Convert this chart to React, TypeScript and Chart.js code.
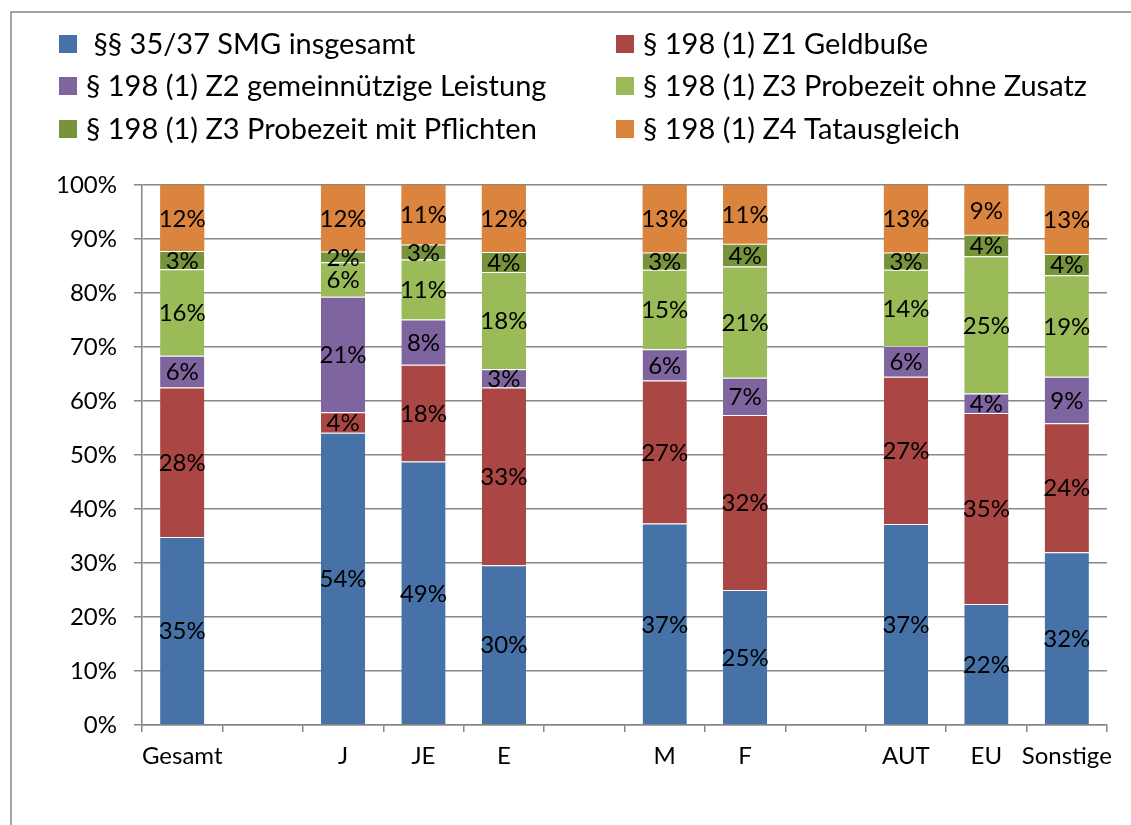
import React, { useEffect, useRef } from "react";
import { Chart, registerables } from "chart.js";

Chart.register(...registerables);

const categories = ["Gesamt", "", "J", "JE", "E", "", "M", "F", "", "AUT", "EU", "Sonstige"];

const seriesNames = [
  " §§ 35/37 SMG insgesamt",
  "§ 198 (1) Z1 Geldbuße",
  "§ 198 (1) Z2 gemeinnützige Leistung",
  "§ 198 (1) Z3 Probezeit ohne Zusatz",
  "§ 198 (1) Z3 Probezeit mit Pflichten",
  "§ 198 (1) Z4 Tatausgleich",
];

const smgInsgesamt = [34.8, null, 54.1, 48.8, 29.6, null, 37.3, 25.0, null, 37.2, 22.4, 32.0];
const geldbusse = [27.7, null, 3.8, 17.9, 32.9, null, 26.5, 32.4, null, 27.3, 35.4, 23.9];
const gemeinnuetzig = [5.9, null, 21.4, 8.4, 3.4, null, 5.8, 6.9, null, 5.7, 3.6, 8.6];
const probezeitOhne = [16.0, null, 6.4, 11.1, 18.0, null, 14.7, 20.6, null, 14.1, 25.4, 18.8];
const probezeitMit = [3.4, null, 2.0, 2.8, 3.7, null, 3.2, 4.2, null, 3.2, 4.0, 3.9];
const tatausgleich = [12.2, null, 12.3, 11.0, 12.4, null, 12.5, 10.9, null, 12.5, 9.2, 12.8];

const yTicks = [0, 10, 20, 30, 40, 50, 60, 70, 80, 90, 100];

const colors = ["#4672A8", "#AA4643", "#7F65A0", "#9BBB59", "#77933C", "#DB843D"];

const FONT = "Lato, 'Open Sans', sans-serif";
const GRID = "#878787";

const labelPlugin = {
  id: "segLabels",
  afterDatasetsDraw(chart: any) {
    const ctx = chart.ctx;
    ctx.save();
    ctx.font = `24px ${FONT}`;
    ctx.fillStyle = "#000";
    ctx.textAlign = "center";
    ctx.textBaseline = "middle";
    chart.data.datasets.forEach((ds: any, i: number) => {
      const meta = chart.getDatasetMeta(i);
      meta.data.forEach((el: any, j: number) => {
        const v = ds.data[j];
        if (v === null || v === undefined) return;
        const y = (el.y + el.base) / 2;
        ctx.fillText(Math.round(v) + "%", el.x, y + 1);
      });
    });
    ctx.restore();
  },
};

const framePlugin = {
  id: "frameLegend",
  beforeDraw(chart: any) {
    const ctx = chart.ctx;
    ctx.save();
    ctx.fillStyle = "#fff";
    ctx.fillRect(0, 0, chart.width, chart.height);
    ctx.strokeStyle = GRID;
    ctx.lineWidth = 1.5;
    ctx.strokeRect(11, 12, chart.width + 20, chart.height + 20);
    ctx.restore();
  },
  afterDraw(chart: any) {
    const ctx = chart.ctx;
    ctx.save();
    ctx.font = `29px ${FONT}`;
    ctx.textBaseline = "middle";
    ctx.textAlign = "left";
    const colX = [59, 616];
    const rowY = [44, 86, 129];
    chart.data.datasets.forEach((ds: any, i: number) => {
      const col = i % 2;
      const row = Math.floor(i / 2);
      const x = colX[col];
      const y = rowY[row];
      ctx.fillStyle = ds.backgroundColor;
      ctx.fillRect(x, y - 9, 18, 18);
      ctx.fillStyle = "#000";
      ctx.fillText(ds.label, x + 27, y + 1);
    });
    ctx.restore();
  },
};

export default function App() {
  const ref = useRef<HTMLCanvasElement>(null);
  useEffect(() => {
    if (!ref.current) return;
    const series = [smgInsgesamt, geldbusse, gemeinnuetzig, probezeitOhne, probezeitMit, tatausgleich];
    const chart = new Chart(ref.current, {
      type: "bar",
      data: {
        labels: categories,
        datasets: series.map((d, i) => ({
          label: seriesNames[i],
          data: d,
          backgroundColor: colors[i],
          borderColor: "rgba(255,255,255,0.55)",
          borderWidth: { top: i === series.length - 1 ? 0 : 1, bottom: 0, left: 0, right: 0 },
          borderSkipped: false,
          barPercentage: 0.55,
          categoryPercentage: 1,
        })),
      },
      options: {
        responsive: false,
        animation: false,
        layout: { padding: { top: 185, left: 0, right: 24, bottom: 0 } },
        plugins: {
          legend: { display: false },
          tooltip: { enabled: false },
          title: { display: false },
        },
        scales: {
          x: {
            stacked: true,
            grid: {
              offset: true,
              drawOnChartArea: false,
              drawTicks: true,
              tickLength: 7,
              color: GRID,
              lineWidth: 1.5,
            },
            border: { display: true, color: GRID, width: 1.5 },
            ticks: {
              font: { family: FONT, size: 24 },
              color: "#000",
              padding: 10,
              maxRotation: 0,
              autoSkip: false,
            },
            afterFit(scale: any) {
              scale.height = 100;
            },
          },
          y: {
            stacked: true,
            min: 0,
            max: 100,
            afterBuildTicks(scale: any) {
              scale.ticks = yTicks.map((v) => ({ value: v }));
            },
            grid: {
              color: GRID,
              lineWidth: 1.5,
              tickLength: 8,
            },
            border: { display: true, color: GRID, width: 1.5 },
            ticks: {
              font: { family: FONT, size: 24 },
              color: "#000",
              padding: 17,
              callback: (v: any) => v + "%",
            },
            afterFit(scale: any) {
              scale.width = 142;
            },
          },
        },
      },
      plugins: [labelPlugin, framePlugin],
    });
    return () => chart.destroy();
  }, []);
  return (
    <div style={{ position: "absolute", left: 0, top: 0, width: 1131, height: 825, background: "#fff" }}>
      <canvas ref={ref} width={1131} height={825} style={{ width: 1131, height: 825, display: "block" }} />
    </div>
  );
}
